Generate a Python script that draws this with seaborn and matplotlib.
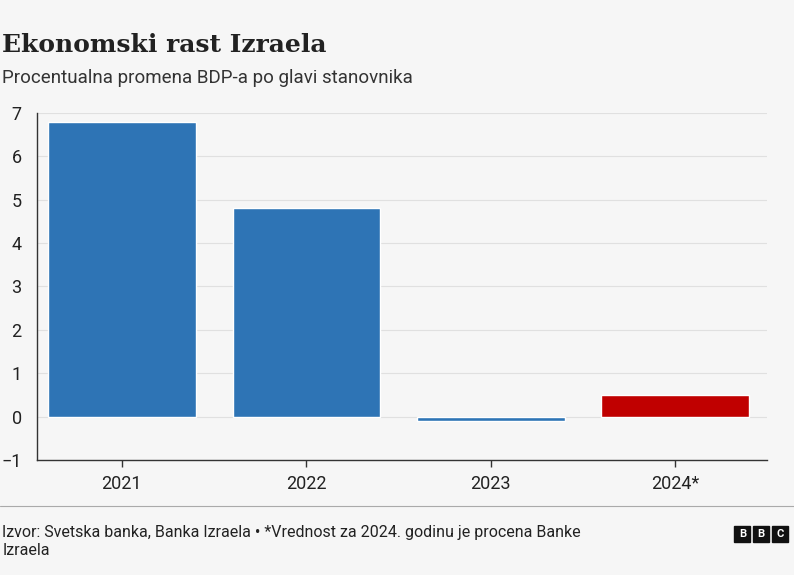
import matplotlib.pyplot as plt
import seaborn as sns
import pandas as pd
from matplotlib.patches import Rectangle

years = ["2021", "2022", "2023", "2024*"]
growth = [6.8, 4.8, -0.1, 0.5]
bar_colors = ["#2e74b5", "#2e74b5", "#2e74b5", "#c00000"]
y_ticks = [-1, 0, 1, 2, 3, 4, 5, 6, 7]

df = pd.DataFrame({"year": years, "growth": growth})

sns.set_theme(style="white")
plt.rcParams["font.family"] = ["Roboto", "DejaVu Sans"]
bg = "#f6f6f6"

fig = plt.figure(figsize=(7.94, 5.75), dpi=100, facecolor=bg)
ax = fig.add_axes([0.0466, 0.2, 0.92, 0.6035], facecolor=bg)

sns.barplot(data=df, x="year", y="growth", hue="year", palette=bar_colors,
            width=0.8, saturation=1, legend=False, ax=ax, zorder=3)

ax.set_ylim(-1, 7)
ax.set_xlim(-0.46, 3.5)
ax.set_yticks(y_ticks)
ax.grid(axis="y", color="#e0e0e0", linewidth=0.8, zorder=0)
ax.set_xlabel("")
ax.set_ylabel("")
for s in ["top", "right"]:
    ax.spines[s].set_visible(False)
for s in ["left", "bottom"]:
    ax.spines[s].set_color("#333333")
    ax.spines[s].set_linewidth(1)
ax.tick_params(axis="y", labelsize=13, colors="#222222", length=0, pad=11)
ax.tick_params(axis="x", labelsize=13, colors="#222222", length=5, width=1,
               color="#333333", bottom=True, pad=6)

fig.text(0.003, 0.91, "Ekonomski rast Izraela", fontsize=18, fontweight="bold",
         family=["DejaVu Serif"], color="#222222")
fig.text(0.003, 0.855, "Procentualna promena BDP-a po glavi stanovnika",
         fontsize=13.5, color="#333333")
fig.add_artist(plt.Line2D([0, 1], [0.12, 0.12], color="#aaaaaa", linewidth=0.8))
fig.text(0.003, 0.035, "Izvor: Svetska banka, Banka Izraela • *Vrednost za 2024. godinu je procena Banke\nIzraela",
         fontsize=11.5, color="#222222", linespacing=1.25)
for i, ch in enumerate("BBC"):
    x0 = 0.925 + i * 0.0235
    fig.add_artist(Rectangle((x0, 0.057), 0.02, 0.028, color="#111111",
                             transform=fig.transFigure))
    fig.text(x0 + 0.01, 0.071, ch, fontsize=8, fontweight="bold", color="white",
             ha="center", va="center")

fig.savefig("out.png", dpi=100, facecolor=bg)
